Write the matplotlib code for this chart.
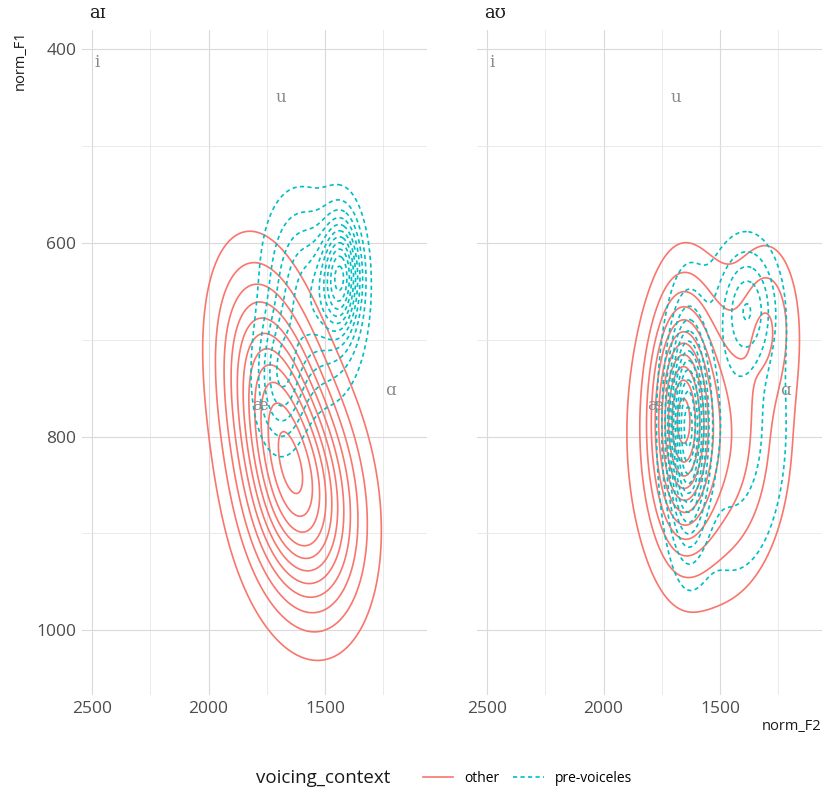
import numpy as np
import matplotlib.pyplot as plt
from matplotlib.lines import Line2D

# vowel reference labels (norm_F2, norm_F1)
vowels = ['i', 'u', 'æ', 'ɑ']
vowel_f2 = [2480, 1690, 1780, 1220]
vowel_f1 = [414, 450, 768, 752]

panels = ['aɪ', 'aʊ']
groups = ['other', 'pre-voiceles']
group_colors = ['#F8766D', '#00BFC4']

# density components:
# [F2 mean, F1 mean, F2 sd, F1 sd, correlation, weight]
ai_other = [[1600, 865, 160, 78, -0.2, 0.60],
            [1740, 748, 140, 80, -0.3, 0.40]]
ai_prevoiceless = [[1430, 632, 55, 40, 0.0, 0.28],
                   [1560, 655, 115, 60, -0.2, 0.52],
                   [1690, 740, 70, 45, 0.0, 0.20]]
au_other = [[1665, 780, 80, 75, 0.0, 0.35],
            [1540, 800, 200, 100, 0.0, 0.59],
            [1290, 680, 80, 50, 0.0, 0.06]]
au_prevoiceless = [[1640, 790, 55, 70, 0.0, 0.42],
                   [1450, 790, 165, 105, 0.0, 0.46],
                   [1380, 665, 80, 40, 0.0, 0.12]]
components = [[ai_other, ai_prevoiceless], [au_other, au_prevoiceless]]
n_levels = [[11, 11], [11, 12]]

x_major = [2500, 2000, 1500]
x_minor = [2250, 1750, 1250]
y_major = [400, 600, 800, 1000]
y_minor = [500, 700, 900]


def density(comps, X, Y):
    Z = np.zeros_like(X)
    for mx, my, sx, sy, r, w in comps:
        dx = (X - mx) / sx
        dy = (Y - my) / sy
        q = (dx ** 2 - 2 * r * dx * dy + dy ** 2) / (1 - r ** 2)
        Z += w * np.exp(-q / 2) / (2 * np.pi * sx * sy * np.sqrt(1 - r ** 2))
    return Z


gx = np.linspace(1000, 2600, 320)
gy = np.linspace(350, 1100, 300)
X, Y = np.meshgrid(gx, gy)

fig = plt.figure(figsize=(8.22, 7.9), dpi=100)
axes = [fig.add_axes([82 / 822, 95 / 790, 345 / 822, 665 / 790]),
        fig.add_axes([477 / 822, 95 / 790, 345 / 822, 665 / 790])]

for p, ax in enumerate(axes):
    ax.set_xlim(2543, 1063)
    ax.set_ylim(1067, 380)
    for s in ax.spines.values():
        s.set_visible(False)
    ax.set_xticks(x_major)
    ax.set_xticks(x_minor, minor=True)
    ax.set_yticks(y_major)
    ax.set_yticks(y_minor, minor=True)
    ax.grid(which='major', color='#dadada', lw=0.8)
    ax.grid(which='minor', color='#e6e6e6', lw=0.6)
    ax.set_axisbelow(True)
    ax.tick_params(which='both', length=0, labelsize=12.5, labelcolor='#4d4d4d', pad=4)
    if p == 1:
        ax.tick_params(labelleft=False)
    for lab in ax.get_xticklabels() + ax.get_yticklabels():
        lab.set_family('Open Sans')

    for g in range(2):
        Z = density(components[p][g], X, Y)
        levels = np.linspace(0.08, 0.96, n_levels[p][g]) * Z.max()
        cs = ax.contour(X, Y, Z, levels=levels, colors=group_colors[g], linewidths=1.2)
        if g == 1:
            cs.set_linestyle((0, (2.5, 2)))

    for v, f2, f1 in zip(vowels, vowel_f2, vowel_f1):
        ax.text(f2, f1, v, ha='center', va='center', fontsize=12, color='#8a8a8a',
                family=['DejaVu Serif'])

    ax.text(0.02, 1.012, panels[p], transform=ax.transAxes, ha='left', va='bottom',
            fontsize=13, family=['DejaVu Serif'], color='#1a1a1a')

fig.text(20 / 822, 1 - 30 / 790, 'norm_F1', rotation=90, ha='center', va='top',
         fontsize=10.5, family='Open Sans', color='#1a1a1a')
fig.text(821 / 822, 1 - 727 / 790, 'norm_F2', ha='right', va='center',
         fontsize=10.5, family='Open Sans', color='#1a1a1a')

fig.text(390 / 822, 1 - 778 / 790, 'voicing_context', ha='right', va='center',
         fontsize=13.5, family='Open Sans', color='#1a1a1a')
handles = [Line2D([], [], color=group_colors[0], lw=1.2),
           Line2D([], [], color=group_colors[1], lw=1.2, linestyle=(0, (2.5, 2)))]
leg = fig.legend(handles, groups, loc='center left', bbox_to_anchor=(410 / 822, 1 - 778 / 790),
                 ncol=2, frameon=False, handlelength=2.2, handletextpad=0.8, columnspacing=1.0,
                 prop={'family': 'Open Sans', 'size': 10})

fig.savefig('out.png', dpi=100)
